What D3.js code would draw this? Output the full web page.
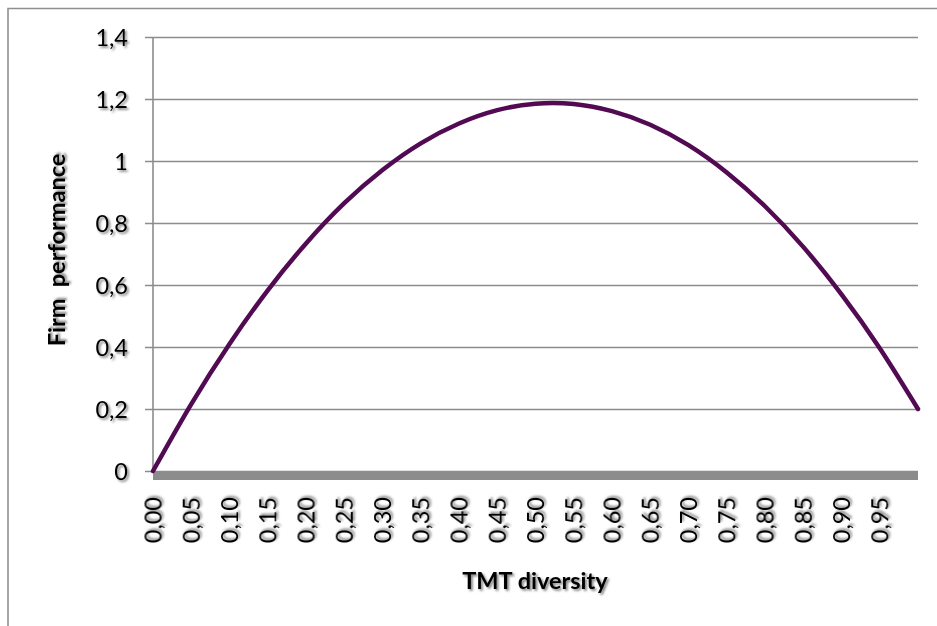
<!DOCTYPE html>
<html>
<head>
<meta charset="utf-8">
<script src="https://cdn.jsdelivr.net/npm/d3@7"></script>
<style>
  html, body { margin: 0; padding: 0; background: #fff; }
  svg { display: block; }
  text { font-family: Lato, "Open Sans", "Liberation Sans", sans-serif; fill: #000; }
</style>
</head>
<body>
<svg id="chart" width="937" height="626"></svg>
<script>
// TMT diversity (x) and firm performance (y) sampled along the curve
const diversity = [0.00, 0.05, 0.10, 0.15, 0.20, 0.25, 0.30, 0.35, 0.40, 0.45, 0.50,
                   0.55, 0.60, 0.65, 0.70, 0.75, 0.80, 0.85, 0.90, 0.95, 1.00];
const performance = [0.000, 0.216, 0.410, 0.583, 0.734, 0.864, 0.971, 1.057, 1.121, 1.164, 1.185,
                     1.184, 1.161, 1.117, 1.051, 0.963, 0.854, 0.723, 0.570, 0.396, 0.200];
const xTickValues = [0.00, 0.05, 0.10, 0.15, 0.20, 0.25, 0.30, 0.35, 0.40, 0.45,
                     0.50, 0.55, 0.60, 0.65, 0.70, 0.75, 0.80, 0.85, 0.90, 0.95];
const yTickValues = [0, 0.2, 0.4, 0.6, 0.8, 1, 1.2, 1.4];
const xTitle = "TMT diversity";
const yTitle = "Firm  performance";

const svg = d3.select("#chart");
const commaFmt = (v, digits) => d3.format("." + digits + "f")(v).replace(".", ",");
const FS = 23.5;

// soft drop shadow used on all text
const defs = svg.append("defs");
defs.append("filter").attr("id", "shadow")
  .attr("x", "-20%").attr("y", "-20%").attr("width", "140%").attr("height", "140%")
  .append("feDropShadow")
  .attr("dx", 1.8).attr("dy", 1.8).attr("stdDeviation", 1.2)
  .attr("flood-color", "#000").attr("flood-opacity", 0.5);

// outer chart frame (top and left edges visible)
svg.append("path")
  .attr("d", "M8,640 L8,8.5 L950,8.5")
  .attr("fill", "none").attr("stroke", "#8f8f8f").attr("stroke-width", 1.6);

const x = d3.scaleLinear().domain([0, 1]).range([153, 918]);
const y = d3.scaleLinear().domain([0, 1.4]).range([471, 37]);

// horizontal gridlines with short outer ticks
const yAxis = d3.axisLeft(y)
  .tickValues(yTickValues)
  .tickSize(-(918 - 153))
  .tickSizeOuter(0)
  .tickPadding(20)
  .tickFormat(d => d === 0 || d === 1 ? String(d) : commaFmt(d, 1));

const gy = svg.append("g").attr("transform", "translate(153,0)").call(yAxis);
gy.select(".domain").remove();
gy.selectAll(".tick line")
  .attr("x1", -8)
  .attr("stroke", "#8c8c8c").attr("stroke-width", 1.6);
gy.selectAll(".tick text")
  .attr("font-size", FS)
  .attr("x", -25)
  .attr("dy", "0.35em")
  .attr("filter", "url(#shadow)");

// vertical axis line
svg.append("line")
  .attr("x1", 153).attr("x2", 153)
  .attr("y1", y(1.4)).attr("y2", y(0))
  .attr("stroke", "#8c8c8c").attr("stroke-width", 1.6);

// thick horizontal axis bar along zero
svg.append("rect")
  .attr("x", x(0)).attr("y", y(0) + 0.5)
  .attr("width", x(1) - x(0)).attr("height", 8.5)
  .attr("fill", "#8c8c8c");

// rotated x tick labels
const xAxis = d3.axisBottom(x)
  .tickValues(xTickValues)
  .tickSize(0)
  .tickFormat(d => commaFmt(d, 2));
const gx = svg.append("g").attr("transform", `translate(0,${y(0)})`).call(xAxis);
gx.select(".domain").remove();
gx.selectAll(".tick text")
  .attr("font-size", FS)
  .attr("text-anchor", "end")
  .attr("transform", "translate(0,26) rotate(-90)")
  .attr("x", 0).attr("y", 0)
  .attr("dy", "0.35em")
  .attr("filter", "url(#shadow)");

// performance curve
const line = d3.line()
  .x((d, i) => x(diversity[i]))
  .y(d => y(d))
  .curve(d3.curveNatural);

svg.append("path")
  .datum(performance)
  .attr("d", line)
  .attr("fill", "none")
  .attr("stroke", "#520b52")
  .attr("stroke-width", 4.5)
  .attr("stroke-linecap", "round");

// axis titles
svg.append("text")
  .attr("x", 535).attr("y", 589)
  .attr("text-anchor", "middle")
  .attr("font-size", FS).attr("font-weight", "bold")
  .attr("filter", "url(#shadow)")
  .text(xTitle);

svg.append("text")
  .attr("transform", "translate(65,250) rotate(-90)")
  .attr("text-anchor", "middle")
  .attr("font-size", FS).attr("font-weight", "bold")
  .attr("filter", "url(#shadow)")
  .attr("xml:space", "preserve")
  .style("white-space", "pre")
  .text(yTitle);
</script>
</body>
</html>
